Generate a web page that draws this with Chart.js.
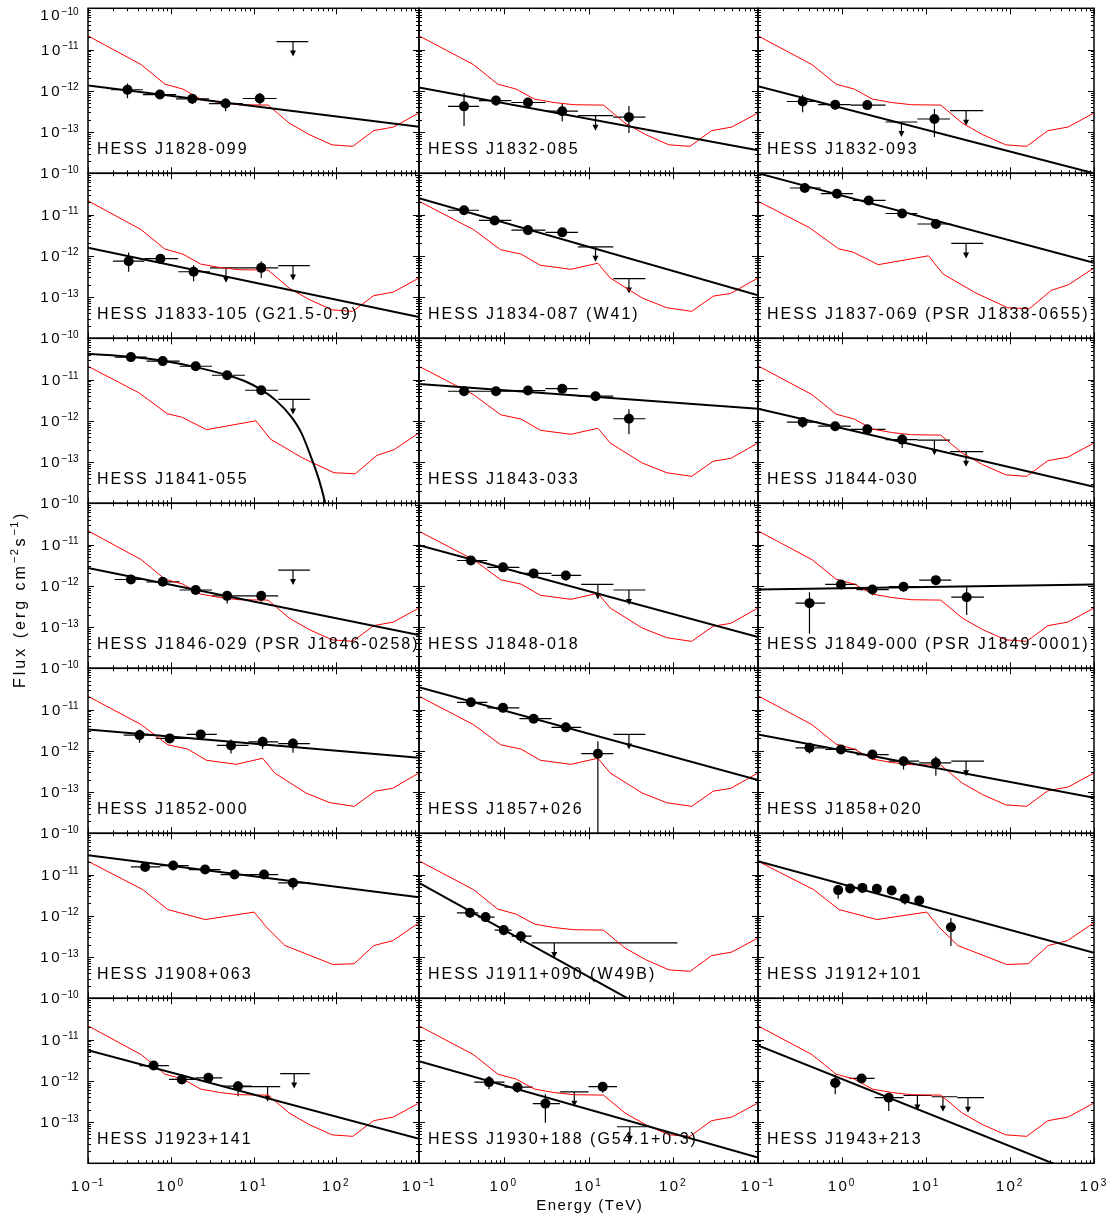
<!DOCTYPE html>
<html>
<head>
<meta charset="utf-8">
<title>HESS source spectra</title>
<script src="https://cdn.jsdelivr.net/npm/chart.js@4.4.1/dist/chart.umd.min.js"></script>
<style>
  html, body { margin: 0; padding: 0; background: #fff; }
  #wrap { position: relative; width: 1112px; height: 1219px; overflow: hidden; }
  #wrap canvas { position: absolute; left: 0; top: 0; }
</style>
</head>
<body>
<div id="wrap"></div>
<script>
// ---------------- data ----------------
const names = [
  'HESS J1828-099', 'HESS J1832-085', 'HESS J1832-093',
  'HESS J1833-105 (G21.5-0.9)', 'HESS J1834-087 (W41)', 'HESS J1837-069 (PSR J1838-0655)',
  'HESS J1841-055', 'HESS J1843-033', 'HESS J1844-030',
  'HESS J1846-029 (PSR J1846-0258)', 'HESS J1848-018', 'HESS J1849-000 (PSR J1849-0001)',
  'HESS J1852-000', 'HESS J1857+026', 'HESS J1858+020',
  'HESS J1908+063', 'HESS J1911+090 (W49B)', 'HESS J1912+101',
  'HESS J1923+141', 'HESS J1930+188 (G54.1+0.3)', 'HESS J1943+213'
];

// sensitivity curves (red), four shapes
const sensA_E = [0.1, 0.44, 0.85, 1.4, 2.3, 3.9, 6.7, 15, 27, 47, 89, 158, 283, 490, 1000];
const sensA_F = [2.15e-11, 4.3e-12, 1.45e-12, 1.1e-12, 6.3e-13, 5.2e-13, 4.6e-13, 4.5e-13, 1.65e-13, 8.7e-14, 4.9e-14, 4.5e-14, 1.08e-13, 1.32e-13, 2.9e-13];
const sensB_E = [0.1, 0.44, 0.92, 1.6, 2.7, 6.2, 12.9, 18, 43, 84, 165, 296, 478, 1000];
const sensB_F = [2.1e-11, 4.3e-12, 1.4e-12, 1.1e-12, 5.9e-13, 4.7e-13, 6.6e-13, 2.9e-13, 9.5e-14, 5.5e-14, 4.5e-14, 1.05e-13, 1.23e-13, 2.9e-13];
const sensC_E = [0.1, 0.41, 0.91, 1.35, 2.7, 10.7, 16, 39, 94, 170, 310, 500, 1000];
const sensC_F = [2.1e-11, 4.8e-12, 1.48e-12, 1.23e-12, 6.1e-13, 1.0e-12, 3.6e-13, 1.26e-13, 5.5e-14, 5.2e-14, 1.45e-13, 2.0e-13, 5.1e-13];
const sensD_E = [0.1, 0.46, 0.92, 2.6, 10.2, 14.2, 24, 91, 165, 285, 484, 1000];
const sensD_F = [2.1e-11, 4.3e-12, 1.42e-12, 8.1e-13, 1.23e-12, 5.4e-13, 1.9e-13, 6.6e-14, 6.9e-14, 1.9e-13, 2.5e-13, 6.8e-13];
const sensType = ['A','A','A', 'A','B','C', 'C','B','A', 'A','B','A', 'B','B','A', 'D','A','D', 'A','A','A'];

// fitted spectra (black)
const cutoffE = [0.1, 0.344, 0.83, 2.0, 4.84, 7.9, 12.4, 19.1, 28.2, 37.9, 50.8, 61.7, 72.4, 79];
const cutoffF = [4.2e-11, 3.5e-11, 2.8e-11, 2.0e-11, 1.27e-11, 9.1e-12, 5.7e-12, 3.0e-12, 1.3e-12, 5.1e-13, 1.16e-13, 3.8e-14, 1.15e-14, 5e-15];
const modelE = [
  [0.1, 1000], [0.1, 1000], [0.1, 1000],
  [0.1, 1000], [0.1, 1000], [0.1, 1000],
  cutoffE, [0.1, 1000], [0.1, 1000],
  [0.1, 1000], [0.1, 1000], [0.1, 1000],
  [0.1, 1000], [0.1, 1000], [0.1, 1000],
  [0.1, 1000], [0.1, 40], [0.1, 1000],
  [0.1, 1000], [0.1, 1000], [0.1, 400]
];
const modelF = [
  [1.35e-12, 1.35e-13], [1.2e-12, 3.6e-14], [1.3e-12, 1.0e-14],
  [1.56e-12, 3.3e-14], [2.5e-11, 1.1e-13], [1.0e-10, 6.8e-13],
  cutoffF, [7.85e-12, 1.95e-12], [1.95e-12, 2.5e-14],
  [2.72e-12, 6.4e-14], [9.6e-12, 5.7e-14], [8.1e-13, 1.08e-12],
  [3.28e-12, 6.8e-13], [3.5e-11, 1.95e-13], [2.48e-12, 7.3e-14],
  [2.94e-11, 2.83e-12], [6.3e-12, 6.9e-15], [2.1e-11, 1.27e-13],
  [5.5e-12, 3.95e-14], [3.0e-12, 1.37e-14], [7.2e-12, 8.4e-15]
];

// flux points (TeV, erg cm-2 s-1)
const ptE = [
  [0.30, 0.74, 1.82, 4.6, 11.9], [0.34, 0.81, 1.93, 4.9, 30], [0.34, 0.83, 2.0, 12.6],
  [0.31, 0.75, 1.89, 12.4], [0.34, 0.78, 1.93, 4.9], [0.36, 0.87, 2.08, 5.2, 13.1],
  [0.33, 0.80, 2.0, 4.8, 12.4], [0.34, 0.81, 1.93, 4.9, 12.1, 30], [0.34, 0.83, 2.0, 5.2],
  [0.33, 0.80, 2.0, 4.8, 12.4], [0.41, 0.98, 2.25, 5.4], [0.41, 0.97, 2.3, 5.4, 13.1, 30.5],
  [0.42, 0.97, 2.3, 5.35, 12.9, 30], [0.41, 0.98, 2.25, 5.4, 12.9], [0.41, 0.97, 2.3, 5.4, 13.1],
  [0.49, 1.07, 2.6, 5.9, 13.4, 30], [0.40, 0.61, 1.0, 1.59], [0.90, 1.25, 1.75, 2.6, 3.9, 5.6, 8.3, 19.8],
  [0.62, 1.36, 2.85, 6.5], [0.67, 1.45, 3.1, 14.7], [0.83, 1.71, 3.6]
];
const ptF = [
  [1.06e-12, 8.1e-13, 6.4e-13, 4.9e-13, 6.5e-13], [4.2e-13, 5.8e-13, 5.2e-13, 3.2e-13, 2.3e-13], [5.5e-13, 4.6e-13, 4.5e-13, 2.07e-13],
  [7.4e-13, 8.5e-13, 4.1e-13, 5.1e-13], [1.27e-11, 7.2e-12, 4.2e-12, 3.7e-12], [4.4e-11, 3.2e-11, 2.2e-11, 1.06e-11, 5.9e-12],
  [3.5e-11, 2.8e-11, 2.1e-11, 1.27e-11, 5.5e-12], [5.2e-12, 5.2e-12, 5.4e-12, 6.0e-12, 3.95e-12, 1.12e-12], [9.3e-13, 7.4e-13, 6.2e-13, 3.5e-13],
  [1.42e-12, 1.25e-12, 7.9e-13, 5.7e-13, 5.7e-13], [4.1e-12, 2.8e-12, 2.0e-12, 1.78e-12], [3.8e-13, 1.08e-12, 8.1e-13, 9.5e-13, 1.37e-12, 5.3e-13],
  [2.4e-12, 2.0e-12, 2.5e-12, 1.35e-12, 1.65e-12, 1.5e-12], [1.5e-11, 1.1e-11, 6.0e-12, 3.7e-12, 8.5e-13], [1.18e-12, 1.08e-12, 8.1e-13, 5.6e-13, 5.1e-13],
  [1.53e-11, 1.65e-11, 1.32e-11, 1.0e-11, 1.0e-11, 6.3e-12], [1.18e-12, 9.3e-13, 4.5e-13, 3.2e-13], [4.2e-12, 4.6e-12, 4.75e-12, 4.5e-12, 4.1e-12, 2.58e-12, 2.35e-12, 5.3e-13],
  [2.34e-12, 1.08e-12, 1.18e-12, 7.4e-13], [9.3e-13, 7.0e-13, 2.8e-13, 7.2e-13], [8.9e-13, 1.14e-12, 3.9e-13]
];
const ptElo = [
  [0.19, 0.46, 1.16, 2.9, 7.4], [0.22, 0.51, 1.23, 3.1, 19.6], [0.22, 0.52, 1.27, 7.9],
  [0.20, 0.48, 1.23, 7.45], [0.22, 0.51, 1.23, 3.1], [0.24, 0.56, 1.35, 3.3, 7.9],
  [0.21, 0.51, 1.28, 3.15, 7.9], [0.22, 0.51, 1.23, 3.1, 7.5, 19.6], [0.22, 0.52, 1.27, 3.3],
  [0.21, 0.51, 1.28, 3.15, 7.9], [0.28, 0.64, 1.53, 3.66], [0.28, 0.63, 1.49, 3.6, 8.3, 20],
  [0.27, 0.66, 1.55, 3.6, 8.7, 19.9], [0.28, 0.64, 1.53, 3.66, 8.2], [0.28, 0.63, 1.49, 3.6, 8.3],
  [0.33, 0.75, 1.65, 4.0, 8.7, 19.9], [0.28, 0.50, 0.78, 1.24], [0.90, 1.25, 1.75, 2.6, 3.9, 5.6, 8.3, 19.8],
  [0.42, 0.95, 2.0, 4.2], [0.45, 1.02, 2.2, 10], [0.72, 1.22, 2.44]
];
const ptEhi = [
  [0.46, 1.16, 2.9, 7.4, 19], [0.51, 1.23, 3.1, 7.5, 47], [0.52, 1.27, 3.3, 19.3],
  [0.48, 1.23, 2.97, 19.9], [0.51, 1.23, 3.1, 7.5], [0.56, 1.35, 3.3, 7.9, 20],
  [0.51, 1.28, 3.15, 7.9, 19.9], [0.51, 1.23, 3.1, 7.5, 19.6, 47], [0.52, 1.27, 3.3, 7.9],
  [0.51, 1.28, 3.15, 7.9, 19.9], [0.64, 1.53, 3.66, 8.2], [0.63, 1.49, 3.6, 8.3, 20, 49],
  [0.66, 1.55, 3.6, 8.7, 19.9, 48], [0.64, 1.53, 3.66, 8.2, 19.7], [0.63, 1.49, 3.6, 8.3, 20],
  [0.75, 1.65, 4.0, 8.7, 19.9, 48], [0.50, 0.78, 1.24, 2.13], [0.90, 1.25, 1.75, 2.6, 3.9, 5.6, 8.3, 19.8],
  [0.95, 2.0, 4.2, 9.5], [1.02, 2.2, 4.6, 21.7], [0.97, 2.44, 5.4]
];
const ptFlo = [
  [6.6e-13, 6.5e-13, 4.8e-13, 3.2e-13, 4.6e-13], [1.4e-13, 4.3e-13, 4.0e-13, 1.8e-13, 9.5e-14], [3.0e-13, 3.5e-13, 3.6e-13, 7.6e-14],
  [4.1e-13, 7.0e-13, 2.4e-13, 2.9e-13], [1.0e-11, 5.7e-12, 3.3e-12, 3.0e-12], [3.5e-11, 2.5e-11, 1.75e-11, 8.3e-12, 4.6e-12],
  [2.8e-11, 2.3e-11, 1.7e-11, 1.0e-11, 4.5e-12], [4.0e-12, 4.3e-12, 4.5e-12, 5.0e-12, 3.3e-12, 4.7e-13], [6.8e-13, 6.0e-13, 4.9e-13, 2.2e-13],
  [1.12e-12, 1.05e-12, 6.2e-13, 3.7e-13, 4.1e-13], [3.3e-12, 2.2e-12, 1.55e-12, 1.35e-12], [6.9e-14, 8.6e-13, 5.9e-13, 7.2e-13, 1.04e-12, 1.95e-13],
  [1.56e-12, 1.56e-12, 1.95e-12, 8.6e-13, 1.1e-12, 9.0e-13], [1.16e-11, 8.6e-12, 4.8e-12, 2.9e-12, 1e-15], [8.6e-13, 8.6e-13, 6.2e-13, 3.5e-13, 2.5e-13],
  [1.2e-11, 1.3e-11, 1.04e-11, 8.0e-12, 8.0e-12, 4.3e-12], [8.9e-13, 7.1e-13, 3.4e-13, 2.2e-13], [2.6e-12, 3.85e-12, 4.0e-12, 3.8e-12, 3.4e-12, 1.88e-12, 1.7e-12, 1.85e-13],
  [1.88e-12, 8.6e-13, 9.3e-13, 4.25e-13], [6.2e-13, 5.1e-13, 9.6e-14, 5.1e-13], [4.7e-13, 9.3e-13, 1.85e-13]
];
const ptFhi = [
  [1.5e-12, 1.0e-12, 8.3e-13, 6.6e-13, 8.8e-13], [8.8e-13, 7.3e-13, 6.6e-13, 4.9e-13, 4.3e-13], [8.0e-13, 6.0e-13, 5.5e-13, 3.6e-13],
  [1.2e-12, 1.0e-12, 5.9e-13, 7.4e-13], [1.6e-11, 8.6e-12, 5.2e-12, 4.6e-12], [5.5e-11, 3.9e-11, 2.8e-11, 1.3e-11, 7.6e-12],
  [4.3e-11, 3.4e-11, 2.6e-11, 1.55e-11, 6.7e-12], [6.6e-12, 6.2e-12, 6.4e-12, 7.2e-12, 4.8e-12, 1.9e-12], [1.18e-12, 9.3e-13, 7.7e-13, 4.7e-13],
  [1.8e-12, 1.5e-12, 9.8e-13, 7.4e-13, 7.4e-13], [5.2e-12, 3.55e-12, 2.5e-12, 2.25e-12], [7.0e-13, 1.35e-12, 1.04e-12, 1.23e-12, 1.71e-12, 9.8e-13],
  [3.3e-12, 2.6e-12, 3.1e-12, 1.88e-12, 2.2e-12, 1.95e-12], [1.9e-11, 1.4e-11, 7.6e-12, 4.8e-12, 1.7e-12], [1.56e-12, 1.35e-12, 9.8e-13, 7.4e-13, 7.4e-13],
  [2.0e-11, 2.1e-11, 1.65e-11, 1.25e-11, 1.25e-11, 8.3e-12], [1.5e-12, 1.17e-12, 5.6e-13, 4.1e-13], [5.5e-12, 5.5e-12, 5.6e-12, 5.4e-12, 4.9e-12, 3.4e-12, 3.0e-12, 8.9e-13],
  [3.0e-12, 1.42e-12, 1.5e-12, 9.8e-13], [1.3e-12, 8.9e-13, 4.7e-13, 9.3e-13], [1.42e-12, 1.35e-12, 5.1e-13]
];

// upper limits
const ulE = [
  [30], [12.1], [5.1, 30], [4.65, 30], [12.1, 30], [30], [30], [], [12.6, 30],
  [30], [12.9, 30], [], [], [30], [30], [], [3.95], [], [14.8, 31], [6.8, 30.7], [7.9, 15.9, 31.6]
];
const ulF = [
  [1.56e-11], [2.5e-13], [1.75e-13, 3.3e-13], [5.1e-13, 5.8e-13], [1.65e-12, 2.8e-13], [2.0e-12], [3.3e-12], [], [3.4e-13, 1.78e-13],
  [2.4e-12], [1.08e-12, 7.9e-13], [], [], [2.5e-12], [5.6e-13], [], [2.2e-13], [], [7.2e-13, 1.5e-12], [5.4e-13, 7.7e-14], [4.4e-13, 4.1e-13, 3.9e-13]
];
const ulElo = [
  [19], [7.5], [3.3, 19.3], [2.97, 19.9], [7.5, 19.6], [20], [19.9], [], [7.9, 19.3],
  [19.9], [8.2, 19.7], [], [], [19.7], [20], [], [2.13], [], [6.8, 21], [4.6, 21.7], [5.4, 11.7, 23.6]
];
const ulEhi = [
  [46], [19.6], [7.9, 48], [7.45, 48], [19.6, 47], [48], [48], [], [19.3, 48],
  [48], [19.7, 47], [], [], [47], [49], [], [112], [], [21, 48], [10, 49], [11.7, 23.6, 49]
];

// axis tick labels (exponents)
const yTickExp = [-10, -11, -12, -13];
const xTickExp = [-1, 0, 1, 2, 3];

// ---------------- layout ----------------
const W = 1112, H = 1219;
const colX = [88, 419, 758, 1094];
const rowTop = 8.3, rowH = 165;
const FONT = '"Liberation Sans", Arial, sans-serif';

const sens = {
  A: [sensA_E, sensA_F], B: [sensB_E, sensB_F],
  C: [sensC_E, sensC_F], D: [sensD_E, sensD_F]
};

function xy(es, fs) {
  return es.map((e, k) => ({ x: e, y: fs[k] }));
}

function spacedWidth(ctx, text, ls) {
  let w = 0;
  for (const ch of text) w += ctx.measureText(ch).width + ls;
  return w - ls;
}

function drawSpaced(ctx, text, x, y, ls) {
  for (const ch of text) {
    ctx.fillText(ch, x, y);
    x += ctx.measureText(ch).width + ls;
  }
  return x;
}

// "10" with a superscript exponent; y is the baseline of "10"
function drawPow(ctx, exp, x, y, align) {
  const sup = String(exp).replace('-', '\u2212');
  ctx.font = '15px ' + FONT;
  const w1 = spacedWidth(ctx, '10', 2.5);
  ctx.font = '10px ' + FONT;
  const w2 = ctx.measureText(sup).width;
  const total = w1 + 2 + w2;
  const sx = align === 'right' ? x - total : x - total / 2;
  ctx.font = '15px ' + FONT;
  drawSpaced(ctx, '10', sx, y, 2.5);
  ctx.font = '10px ' + FONT;
  ctx.fillText(sup, sx + w1 + 2, y - 5.5);
}

const panelPlugin = {
  id: 'panel',
  beforeDatasetsDraw(chart, args, opts) {
    const i = opts.index;
    const { ctx, chartArea: a } = chart;
    const xs = chart.scales.x, ys = chart.scales.y;
    ctx.save();
    ctx.beginPath();
    ctx.rect(a.left, a.top, a.right - a.left, a.bottom - a.top);
    ctx.clip();
    ctx.strokeStyle = '#000';
    ctx.fillStyle = '#000';
    ctx.lineWidth = 1.2;
    ptE[i].forEach((e, k) => {
      const px = xs.getPixelForValue(e);
      const py = ys.getPixelForValue(ptF[i][k]);
      ctx.beginPath();
      ctx.moveTo(xs.getPixelForValue(ptElo[i][k]), py);
      ctx.lineTo(xs.getPixelForValue(ptEhi[i][k]), py);
      ctx.moveTo(px, ys.getPixelForValue(ptFlo[i][k]));
      ctx.lineTo(px, ys.getPixelForValue(ptFhi[i][k]));
      ctx.stroke();
    });
    ulE[i].forEach((e, k) => {
      const px = xs.getPixelForValue(e);
      const py = ys.getPixelForValue(ulF[i][k]);
      ctx.beginPath();
      ctx.moveTo(xs.getPixelForValue(ulElo[i][k]), py);
      ctx.lineTo(xs.getPixelForValue(ulEhi[i][k]), py);
      ctx.moveTo(px, py);
      ctx.lineTo(px, py + 10);
      ctx.stroke();
      ctx.beginPath();
      ctx.moveTo(px - 3, py + 9);
      ctx.lineTo(px + 3, py + 9);
      ctx.lineTo(px, py + 15);
      ctx.closePath();
      ctx.fill();
    });
    ctx.restore();
  },
  afterDraw(chart, args, opts) {
    const { index: i, col, row } = opts;
    const { ctx, chartArea: a } = chart;
    const xs = chart.scales.x, ys = chart.scales.y;
    ctx.save();
    ctx.strokeStyle = '#000';
    ctx.fillStyle = '#000';

    // frame
    ctx.lineWidth = 1.5;
    ctx.strokeRect(a.left, a.top, a.right - a.left, a.bottom - a.top);

    // inward ticks on all four sides
    ctx.lineWidth = 1;
    ctx.beginPath();
    for (let d = -1; d <= 3; d++) {
      for (let m = 1; m <= 9; m++) {
        const v = m * Math.pow(10, d);
        if (v > 1000 * 1.0001) break;
        const px = Math.round(xs.getPixelForValue(v)) + 0.5;
        const len = m === 1 ? 6 : 3;
        ctx.moveTo(px, a.bottom); ctx.lineTo(px, a.bottom - len);
        ctx.moveTo(px, a.top); ctx.lineTo(px, a.top + len);
      }
    }
    for (let d = -14; d <= -10; d++) {
      for (let m = 1; m <= 9; m++) {
        const v = m * Math.pow(10, d);
        if (v > 1e-10 * 1.0001) break;
        const py = Math.round(ys.getPixelForValue(v)) + 0.5;
        const len = m === 1 ? 6 : 3;
        ctx.moveTo(a.left, py); ctx.lineTo(a.left + len, py);
        ctx.moveTo(a.right, py); ctx.lineTo(a.right - len, py);
      }
    }
    ctx.stroke();

    // tick labels
    ctx.textAlign = 'left';
    ctx.textBaseline = 'alphabetic';
    if (col === 0) {
      yTickExp.forEach(ex => {
        let ty = ys.getPixelForValue(Math.pow(10, ex));
        if (row === 0 && ex === -10) ty = a.top + 7;
        drawPow(ctx, ex, a.left - 9.5, ty + 5, 'right');
      });
    }
    if (row === 6) {
      xTickExp.forEach(ex => {
        if (ex === 3 && col !== 2) return;
        const tx = xs.getPixelForValue(Math.pow(10, ex));
        drawPow(ctx, ex, tx - 1, 1191, 'center');
      });
    }

    // source name
    ctx.font = '16px ' + FONT;
    drawSpaced(ctx, names[i], a.left + 9, a.top + 146, 2);

    // axis titles, once
    if (i === 0) {
      ctx.font = '15px ' + FONT;
      const tw = spacedWidth(ctx, 'Energy (TeV)', 1.5);
      drawSpaced(ctx, 'Energy (TeV)', 589 - tw / 2, 1210, 1.5);

      ctx.translate(25, 688);
      ctx.rotate(-Math.PI / 2);
      let x = 0;
      ctx.font = '16px ' + FONT;
      x = drawSpaced(ctx, 'Flux (erg cm', x, 0, 3);
      ctx.font = '11px ' + FONT;
      x = drawSpaced(ctx, '\u22122', x, -7, 1.5) + 1;
      ctx.font = '16px ' + FONT;
      x = drawSpaced(ctx, 's', x, 0, 3);
      ctx.font = '11px ' + FONT;
      x = drawSpaced(ctx, '\u22121', x, -7, 1.5) + 1;
      ctx.font = '16px ' + FONT;
      drawSpaced(ctx, ')', x, 0, 3);
    }
    ctx.restore();
  }
};

// ---------------- charts ----------------
const wrap = document.getElementById('wrap');

for (let i = 0; i < names.length; i++) {
  const col = i % 3, row = Math.floor(i / 3);
  const left = colX[col], right = colX[col + 1];
  const top = rowTop + row * rowH, bottom = top + rowH;

  const canvas = document.createElement('canvas');
  canvas.width = W;
  canvas.height = H;
  wrap.appendChild(canvas);

  const [sE, sF] = sens[sensType[i]];

  new Chart(canvas, {
    type: 'scatter',
    data: {
      datasets: [
        {
          type: 'line', data: xy(sE, sF), borderColor: '#ff0000', borderWidth: 1,
          pointRadius: 0, tension: 0, order: 2, clip: 0
        },
        {
          type: 'line', data: xy(modelE[i], modelF[i]), borderColor: '#000', borderWidth: 2,
          pointRadius: 0, cubicInterpolationMode: i === 6 ? 'monotone' : 'default',
          order: 1, clip: 0
        },
        {
          type: 'scatter', data: xy(ptE[i], ptF[i]), pointRadius: 5, pointHoverRadius: 5,
          backgroundColor: '#000', borderWidth: 0, order: 0, clip: 0
        }
      ]
    },
    options: {
      responsive: false,
      animation: false,
      devicePixelRatio: 1,
      events: [],
      layout: { padding: { left: left, top: top, right: W - right, bottom: H - bottom } },
      scales: {
        x: { type: 'logarithmic', min: 0.1, max: 1000, display: false },
        y: { type: 'logarithmic', min: 1e-14, max: 1e-10, display: false }
      },
      plugins: {
        legend: { display: false },
        tooltip: { enabled: false },
        panel: { index: i, col: col, row: row }
      }
    },
    plugins: [panelPlugin]
  });
}
</script>
</body>
</html>
